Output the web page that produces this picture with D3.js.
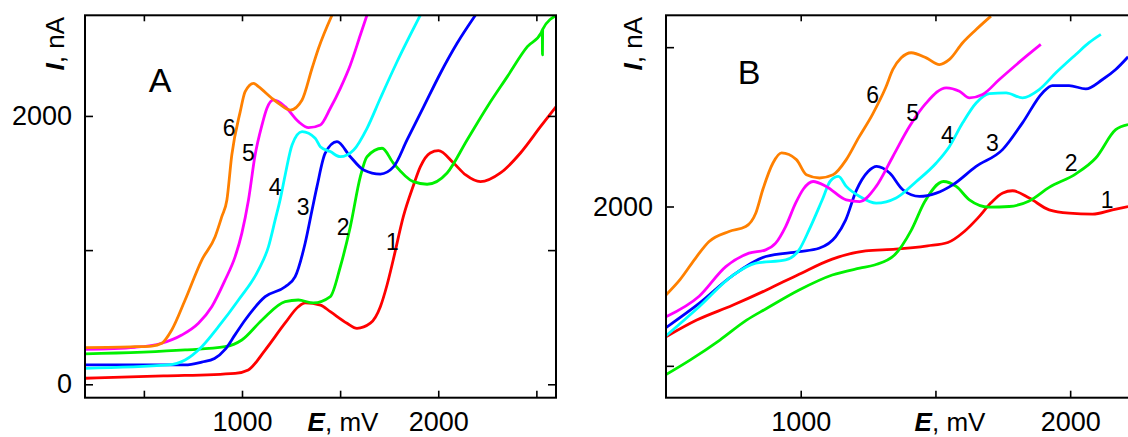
<!DOCTYPE html>
<html>
<head>
<meta charset="utf-8">
<script src="https://cdn.jsdelivr.net/npm/d3@7"></script>
<style>
  body { margin: 0; background: #fff; }
  text { font-family: "Liberation Sans", Arial, sans-serif; fill: #000; }
</style>
</head>
<body>
<svg id="chart" width="1128" height="437"></svg>
<script>
// curve colours, 1..6
var colors = ["#ff0000", "#00f000", "#0000ff", "#00ffff", "#ff00ff", "#ff8000"]

// panel A, [E mV, I nA]
var a1 = [[200,45],[600,62],[965,82],[1032,107],[1118,255],[1220,457],[1287,578],[1322,606],[1400,590],[1450,541],[1535,455],[1586,417],[1654,455],[1705,578],[1739,740],[1771,930],[1822,1250],[1873,1480],[1909,1622],[1959,1724],[2001,1741],[2078,1649],[2140,1560],[2215,1510],[2317,1575],[2419,1724],[2521,1920],[2607,2082]]
var a2 = [[200,226],[710,256],[914,280],[999,330],[1102,479],[1220,616],[1287,628],[1363,606],[1450,653],[1501,876],[1552,1175],[1603,1547],[1637,1696],[1714,1759],[1771,1649],[1873,1510],[1943,1491],[2045,1575],[2147,1821],[2250,2069],[2352,2293],[2454,2516],[2525,2620],[2530,2641],[2531,2455],[2532,2645],[2607,2752]]
var a3 = [[200,144],[710,144],[795,165],[860,192],[914,260],[965,370],[1016,479],[1118,653],[1220,727],[1271,802],[1322,1053],[1357,1299],[1382,1473],[1424,1722],[1484,1808],[1552,1696],[1620,1597],[1705,1567],[1773,1622],[1841,1821],[1926,2069],[2011,2318],[2096,2541],[2190,2752]]
var a4 = [[200,119],[623,144],[710,181],[795,280],[880,429],[982,628],[1084,852],[1135,1026],[1169,1225],[1195,1380],[1220,1560],[1255,1784],[1306,1883],[1373,1834],[1399,1771],[1450,1734],[1501,1696],[1569,1746],[1637,1908],[1705,2132],[1790,2404],[1909,2752]]
var a5 = [[200,261],[455,276],[591,306],[693,367],[778,455],[846,578],[914,777],[965,951],[999,1125],[1033,1374],[1067,1710],[1102,1933],[1127,2057],[1161,2119],[1220,2069],[1288,1957],[1339,1913],[1399,1933],[1450,2057],[1501,2206],[1552,2380],[1603,2603],[1637,2752]]
var a6 = [[200,273],[455,280],[540,285],[591,306],[642,405],[710,628],[795,926],[863,1100],[897,1249],[923,1374],[948,1709],[991,2032],[1016,2181],[1059,2243],[1084,2218],[1152,2132],[1186,2094],[1246,2044],[1306,2119],[1357,2355],[1390,2504],[1459,2752]]

// panel B, [E mV, I nA]
var b1 = [[500,1182],[614,1287],[747,1380],[873,1476],[994,1575],[1117,1670],[1241,1722],[1352,1732],[1471,1753],[1546,1774],[1607,1843],[1657,1927],[1706,2023],[1750,2085],[1786,2099],[1848,2053],[1922,1979],[1996,1958],[2083,1952],[2157,1979],[2215,2000]]
var b2 = [[500,945],[589,1036],[700,1162],[799,1287],[873,1360],[994,1476],[1117,1570],[1219,1613],[1274,1633],[1348,1695],[1410,1850],[1460,2030],[1530,2157],[1577,2126],[1626,2042],[1700,1996],[1774,2000],[1848,2035],[1922,2120],[2021,2205],[2095,2304],[2169,2482],[2215,2514]]
var b3 = [[500,1240],[623,1392],[747,1566],[870,1686],[994,1717],[1068,1738],[1130,1811],[1167,1916],[1206,2100],[1250,2220],[1282,2252],[1330,2210],[1379,2105],[1441,2063],[1503,2084],[1564,2136],[1651,2252],[1749,2357],[1823,2525],[1897,2713],[1934,2759],[1996,2759],[2058,2738],[2120,2797],[2169,2860],[2215,2940]]
var b4 = [[500,1188],[623,1371],[747,1566],[833,1644],[944,1665],[994,1728],[1031,1853],[1080,2042],[1110,2160],[1140,2189],[1169,2126],[1219,2063],[1280,2021],[1354,2053],[1429,2157],[1503,2273],[1552,2377],[1601,2525],[1651,2650],[1700,2709],[1762,2713],[1823,2682],[1885,2734],[1947,2839],[2021,2954],[2070,3028],[2114,3080]]
var b5 = [[500,1308],[623,1437],[722,1623],[808,1707],[870,1728],[907,1770],[944,1874],[981,2021],[1010,2110],[1046,2157],[1095,2126],[1169,2042],[1219,2031],[1280,2126],[1342,2314],[1404,2503],[1466,2650],[1540,2745],[1589,2723],[1626,2682],[1675,2703],[1737,2797],[1823,2923],[1891,3017]]
var b6 = [[500,1445],[552,1541],[614,1686],[660,1780],[734,1843],[796,1874],[833,1958],[860,2110],[897,2273],[929,2336],[984,2294],[1021,2199],[1070,2179],[1120,2199],[1169,2294],[1215,2432],[1266,2577],[1315,2745],[1342,2860],[1373,2933],[1410,2965],[1466,2933],[1515,2891],[1552,2923],[1601,3028],[1651,3111],[1706,3195]]

// curve numbers, [text, E, I] of label centre
var labelsA = [["1",1766,1061],["2",1516,1173],["3",1312,1322],["4",1169,1471],["5",1032,1724],["6",935,1910]]
var labelsB = [["1",2137,2042],["2",2004,2275],["3",1711,2401],["4",1544,2451],["5",1415,2589],["6",1267,2702]]

// ticks
var xTicksA = [500, 1000, 1500, 2000, 2500]
var yTicksA = [0, 1000, 2000]
var xTicksB = [1000, 1500, 2000]
var yTicksB = [1000, 2000, 3000]
var xLabelled = [1000, 2000]
var yLabelled = [0, 2000]

var svg = d3.select("#chart")

var panels = [
  { name: "A", series: [a1, a2, a3, a4, a5, a6], labels: labelsA,
    xDomain: [200, 2600], yDomain: [-100, 2750], left: 85, right: 556,
    xTicks: xTicksA, yTicks: yTicksA, rightTicks: true,
    letterX: 160, letterY: 92, titleX: 343, yTitleX: 64 },
  { name: "B", series: [b1, b2, b3, b4, b5, b6], labels: labelsB,
    xDomain: [500, 2300], yDomain: [800, 3200], left: 666, right: 1151,
    xTicks: xTicksB, yTicks: yTicksB, rightTicks: false,
    letterX: 749, letterY: 84, titleX: 950, yTitleX: 642 }
]
var plotTop = 15.3, plotBottom = 397.7

panels.forEach(drawPanel)

function drawPanel(p) {
  var x = d3.scaleLinear().domain(p.xDomain).range([p.left, p.right])
  var y = d3.scaleLinear().domain(p.yDomain).range([plotBottom, plotTop])
  var g = svg.append("g")

  g.append("clipPath").attr("id", "clip" + p.name)
    .append("rect").attr("x", p.left).attr("y", plotTop)
    .attr("width", p.right - p.left).attr("height", plotBottom - plotTop)

  var line = d3.line()
    .x(function(d) { return x(d[0]) })
    .y(function(d) { return y(d[1]) })
    .curve(d3.curveMonotoneX)

  g.append("g").attr("clip-path", "url(#clip" + p.name + ")")
    .selectAll("path").data(p.series).join("path")
    .attr("d", line)
    .attr("fill", "none")
    .attr("stroke", function(d, i) { return colors[i] })
    .attr("stroke-width", 2.8)
    .attr("stroke-linejoin", "round")

  function fmtX(d) { return xLabelled.indexOf(d) >= 0 ? d : "" }
  function fmtY(d) { return yLabelled.indexOf(d) >= 0 ? d : "" }

  var axes = [
    [d3.axisBottom(x).tickValues(p.xTicks).tickSizeInner(-7).tickPadding(14).tickFormat(fmtX), 0, plotBottom],
    [d3.axisTop(x).tickValues(p.xTicks).tickSizeInner(-6).tickFormat(""), 0, plotTop],
    [d3.axisLeft(y).tickValues(p.yTicks).tickSizeInner(-8).tickPadding(13).tickFormat(fmtY), p.left, 0]
  ]
  if (p.rightTicks)
    axes.push([d3.axisRight(y).tickValues(p.yTicks).tickSizeInner(-8).tickFormat(""), p.right, 0])

  axes.forEach(function(a) {
    var ag = g.append("g").attr("transform", "translate(" + a[1] + "," + a[2] + ")").call(a[0].tickSizeOuter(0))
    ag.select(".domain").remove()
    ag.selectAll("line").attr("stroke", "#000").attr("stroke-width", 1.6)
    ag.selectAll("text").attr("font-size", 27).attr("fill", "#000")
    ag.attr("font-family", null).attr("font-size", null)
  })

  // frame
  g.append("rect").attr("x", p.left).attr("y", plotTop)
    .attr("width", p.right - p.left).attr("height", plotBottom - plotTop)
    .attr("fill", "none").attr("stroke", "#000").attr("stroke-width", 2)

  // curve numbers
  g.selectAll(".num").data(p.labels).join("text")
    .attr("class", "num")
    .attr("x", function(d) { return x(d[1]) })
    .attr("y", function(d) { return y(d[2]) })
    .attr("dy", "0.36em")
    .attr("text-anchor", "middle")
    .attr("font-size", 23)
    .text(function(d) { return d[0] })

  // panel letter
  g.append("text").attr("x", p.letterX).attr("y", p.letterY)
    .attr("text-anchor", "middle").attr("font-size", 34).text(p.name)

  // axis titles
  var xt = g.append("text").attr("x", p.titleX).attr("y", 431)
    .attr("text-anchor", "middle").attr("font-size", 26)
  xt.append("tspan").attr("font-weight", "bold").attr("font-style", "italic").text("E")
  xt.append("tspan").text(", mV")

  var yt = g.append("text")
    .attr("transform", "translate(" + p.yTitleX + ",17) rotate(-90)")
    .attr("text-anchor", "end").attr("font-size", 26)
  yt.append("tspan").attr("font-weight", "bold").attr("font-style", "italic").text("I")
  yt.append("tspan").text(", nA")
}
</script>
</body>
</html>
